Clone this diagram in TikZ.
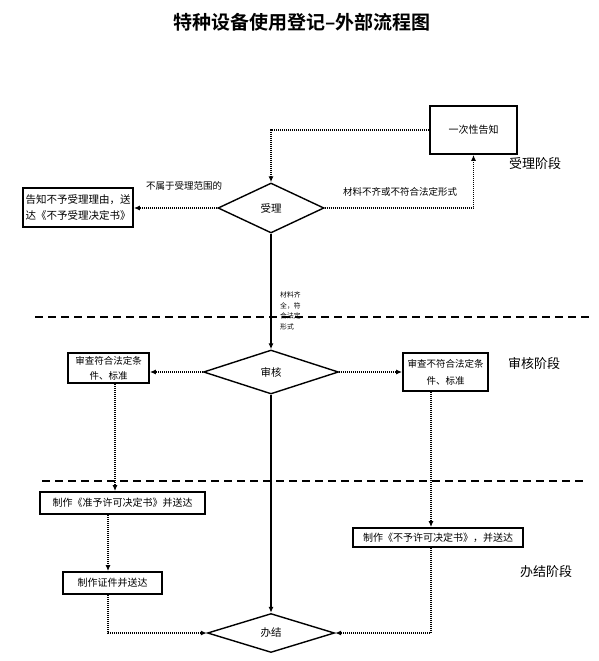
\documentclass[tikz,border=0pt]{standalone}
\usepackage{fontspec}
\setmainfont{Noto Sans CJK SC}
\newfontfamily\titlefont{Noto Sans CJK SC Bold}
\usetikzlibrary{arrows.meta,shapes.geometric}
\begin{document}
\begin{tikzpicture}[x=1pt,y=-1pt,
  box/.style={draw, line width=1.7pt, inner sep=0pt, align=center, font=\fontsize{10}{15}\selectfont},
  dia/.style={draw, diamond, line width=1.4pt, inner sep=0pt, font=\fontsize{10.5}{12}\selectfont},
  dotln/.style={line width=1.2pt, dash pattern=on 1pt off 1pt, -{Latex[length=6pt,width=5pt]}},
  solidln/.style={line width=1.2pt, -{Latex[length=6pt,width=5pt]}},
  sep/.style={line width=1.4pt, dash pattern=on 8pt off 5pt},
  lbl/.style={inner sep=0pt, font=\fontsize{9.5}{11}\selectfont},
  stage/.style={inner sep=0pt, font=\fontsize{13}{15}\selectfont}]
\useasboundingbox (0,0) rectangle (599,661);

\node[inner sep=0pt, font=\titlefont\fontsize{19}{22}\selectfont] (title) at (302,22) {特种设备使用登记–外部流程图};

% nodes
\node[box, minimum width=87, minimum height=48] (yici) at (473.5,130) {一次性告知};
\node[dia, minimum width=106, minimum height=50] (shouli) at (271,208) {受理};
\node[box, minimum width=110, minimum height=39, align=left, font=\fontsize{10.5}{16}\selectfont] (gaozhi) at (78,207.5) {告知不予受理理由，送\\达《不予受理决定书》};
\node[dia, minimum width=135, minimum height=44] (shenhe) at (271,372) {审核};
\node[box, minimum width=81, minimum height=30, font=\fontsize{9.5}{15}\selectfont] (lshen) at (108.5,368) {审查符合法定条\\件、标准};
\node[box, minimum width=85, minimum height=38, font=\fontsize{9.5}{17}\selectfont] (rshen) at (445.5,372) {审查不符合法定条\\件、标准};
\node[box, minimum width=165, minimum height=22] (zhunyu) at (122.5,503) {制作《准予许可决定书》并送达};
\node[box, minimum width=99, minimum height=22] (zhengjian) at (112.5,583) {制作证件并送达};
\node[box, minimum width=170, minimum height=19] (buyu) at (438,537.5) {制作《不予许可决定书》，并送达};
\node[dia, minimum width=127, minimum height=39] (banjie) at (271,633) {办结};

% stage labels
\node[stage] (s1) at (535,164) {受理阶段};
\node[stage] (s2) at (534,364) {审核阶段};
\node[stage] (s3) at (546,572) {办结阶段};

% separators
\coordinate (d1a) at (35,317);
\coordinate (d1b) at (592,317);
\coordinate (d2a) at (42,481);
\coordinate (d2b) at (583,481);
\draw[sep] (d1a) -- (d1b);
\draw[sep] (d2a) -- (d2b);

% connectors
\draw[dotln] (yici.west) -| (shouli.north);
\draw[dotln] (shouli.east) -| (yici.south);
\draw[dotln] (shouli.west) -- (gaozhi.east |- shouli.west);
\draw[solidln] (shouli.south) -- (shenhe.north);
\draw[dotln] (shenhe.west) -- (lshen.east |- shenhe.west);
\draw[dotln] (shenhe.east) -- (rshen.west |- shenhe.east);
\draw[dotln] (lshen.south -| 115,0) -- (zhunyu.north -| 115,0);
\draw[dotln] (zhunyu.south -| 108,0) -- (zhengjian.north -| 108,0);
\draw[dotln] (zhengjian.south -| 108,0) |- (banjie.west);
\draw[solidln] (shenhe.south) -- (banjie.north);
\draw[dotln] (rshen.south -| 431,0) -- (buyu.north -| 431,0);
\draw[dotln] (buyu.south -| 431,0) |- (banjie.east);

% edge labels
\node[lbl] (l1) at (184,186) {不属于受理范围的};
\node[lbl] (l2) at (400,192) {材料不齐或不符合法定形式};
\node[inner sep=0pt, anchor=north west, align=left, font=\fontsize{6.8}{10.5}\selectfont] (l3) at (280,292) {材料齐\\全，符\\合法定\\形式};
\end{tikzpicture}
\end{document}
